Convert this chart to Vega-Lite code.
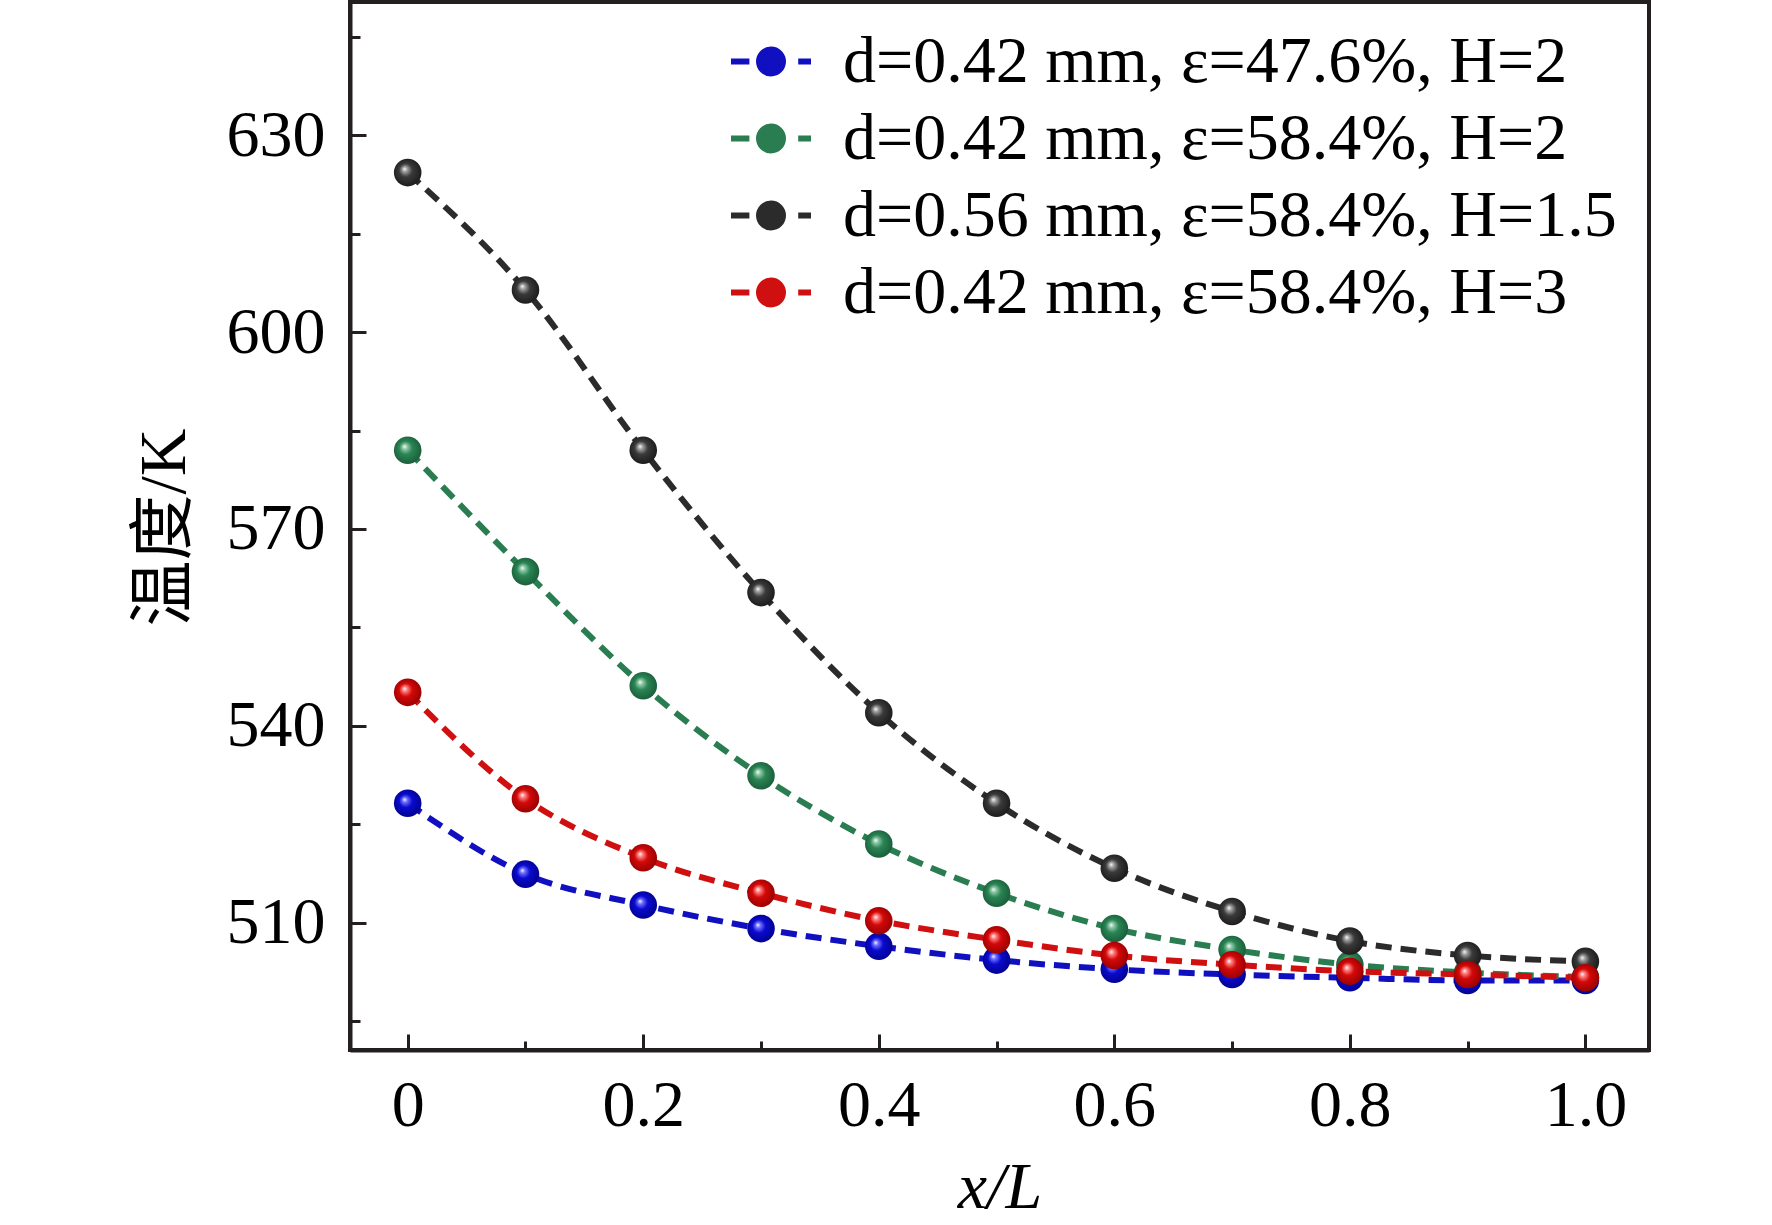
{
  "$schema": "https://vega.github.io/schema/vega-lite/v6.json",
  "width": 1299,
  "height": 1048,
  "autosize": {"type": "none"},
  "padding": {"left": 350, "top": 2, "right": 123, "bottom": 175},
  "background": "white",
  "config": {
    "view": {"stroke": "#231f20", "strokeWidth": 4},
    "font": "Liberation Serif"
  },
  "data": {
    "values": [
      {"series": "d=0.42 mm, ε=47.6%, H=2", "x": 0, "T": 528.2},
      {"series": "d=0.42 mm, ε=47.6%, H=2", "x": 0.1, "T": 517.4},
      {"series": "d=0.42 mm, ε=47.6%, H=2", "x": 0.2, "T": 512.7},
      {"series": "d=0.42 mm, ε=47.6%, H=2", "x": 0.3, "T": 509.1},
      {"series": "d=0.42 mm, ε=47.6%, H=2", "x": 0.4, "T": 506.4},
      {"series": "d=0.42 mm, ε=47.6%, H=2", "x": 0.5, "T": 504.3},
      {"series": "d=0.42 mm, ε=47.6%, H=2", "x": 0.6, "T": 502.9},
      {"series": "d=0.42 mm, ε=47.6%, H=2", "x": 0.7, "T": 502.1},
      {"series": "d=0.42 mm, ε=47.6%, H=2", "x": 0.8, "T": 501.6},
      {"series": "d=0.42 mm, ε=47.6%, H=2", "x": 0.9, "T": 501.2},
      {"series": "d=0.42 mm, ε=47.6%, H=2", "x": 1.0, "T": 501.2},
      {"series": "d=0.42 mm, ε=58.4%, H=2", "x": 0, "T": 582.0},
      {"series": "d=0.42 mm, ε=58.4%, H=2", "x": 0.1, "T": 563.5},
      {"series": "d=0.42 mm, ε=58.4%, H=2", "x": 0.2, "T": 546.1},
      {"series": "d=0.42 mm, ε=58.4%, H=2", "x": 0.3, "T": 532.4},
      {"series": "d=0.42 mm, ε=58.4%, H=2", "x": 0.4, "T": 522.0},
      {"series": "d=0.42 mm, ε=58.4%, H=2", "x": 0.5, "T": 514.5},
      {"series": "d=0.42 mm, ε=58.4%, H=2", "x": 0.6, "T": 509.1},
      {"series": "d=0.42 mm, ε=58.4%, H=2", "x": 0.7, "T": 505.9},
      {"series": "d=0.42 mm, ε=58.4%, H=2", "x": 0.8, "T": 503.6},
      {"series": "d=0.42 mm, ε=58.4%, H=2", "x": 0.9, "T": 502.4},
      {"series": "d=0.42 mm, ε=58.4%, H=2", "x": 1.0, "T": 501.7},
      {"series": "d=0.56 mm, ε=58.4%, H=1.5", "x": 0, "T": 624.3},
      {"series": "d=0.56 mm, ε=58.4%, H=1.5", "x": 0.1, "T": 606.4},
      {"series": "d=0.56 mm, ε=58.4%, H=1.5", "x": 0.2, "T": 582.0},
      {"series": "d=0.56 mm, ε=58.4%, H=1.5", "x": 0.3, "T": 560.3},
      {"series": "d=0.56 mm, ε=58.4%, H=1.5", "x": 0.4, "T": 542.0},
      {"series": "d=0.56 mm, ε=58.4%, H=1.5", "x": 0.5, "T": 528.2},
      {"series": "d=0.56 mm, ε=58.4%, H=1.5", "x": 0.6, "T": 518.3},
      {"series": "d=0.56 mm, ε=58.4%, H=1.5", "x": 0.7, "T": 511.7},
      {"series": "d=0.56 mm, ε=58.4%, H=1.5", "x": 0.8, "T": 507.2},
      {"series": "d=0.56 mm, ε=58.4%, H=1.5", "x": 0.9, "T": 505.0},
      {"series": "d=0.56 mm, ε=58.4%, H=1.5", "x": 1.0, "T": 504.1},
      {"series": "d=0.42 mm, ε=58.4%, H=3", "x": 0, "T": 545.1},
      {"series": "d=0.42 mm, ε=58.4%, H=3", "x": 0.1, "T": 528.9},
      {"series": "d=0.42 mm, ε=58.4%, H=3", "x": 0.2, "T": 519.9},
      {"series": "d=0.42 mm, ε=58.4%, H=3", "x": 0.3, "T": 514.5},
      {"series": "d=0.42 mm, ε=58.4%, H=3", "x": 0.4, "T": 510.3},
      {"series": "d=0.42 mm, ε=58.4%, H=3", "x": 0.5, "T": 507.4},
      {"series": "d=0.42 mm, ε=58.4%, H=3", "x": 0.6, "T": 505.0},
      {"series": "d=0.42 mm, ε=58.4%, H=3", "x": 0.7, "T": 503.6},
      {"series": "d=0.42 mm, ε=58.4%, H=3", "x": 0.8, "T": 502.6},
      {"series": "d=0.42 mm, ε=58.4%, H=3", "x": 0.9, "T": 502.1},
      {"series": "d=0.42 mm, ε=58.4%, H=3", "x": 1.0, "T": 501.6}
    ]
  },
  "resolve": {"axis": {"x": "independent", "y": "independent"}},
  "layer": [
    {
      "mark": {"type": "line", "interpolate": "monotone", "strokeWidth": 6, "strokeDash": [16, 9]},
      "encoding": {
        "x": {
          "field": "x", "type": "quantitative",
          "scale": {"domain": [-0.049, 1.054], "nice": false, "zero": false},
          "axis": {
            "orient": "bottom",
            "values": [0, 0.2, 0.4, 0.6, 0.8, 1.0],
            "labelExpr": "datum.value == 0 ? '0' : format(datum.value, '.1f')",
            "tickSize": -16, "tickWidth": 3, "tickColor": "#231f20",
            "domainColor": "#231f20", "domainWidth": 4,
            "labelFont": "Liberation Serif", "labelFontSize": 66, "labelColor": "#000000",
            "labelPadding": 39, "labelBaseline": "top",
            "grid": false,
            "title": "x/L", "titleFont": "Liberation Serif", "titleFontStyle": "italic",
            "titleFontWeight": "normal", "titleFontSize": 66, "titleColor": "#000000",
            "titleBaseline": "alphabetic", "titleY": 157
          }
        },
        "y": {
          "field": "T", "type": "quantitative",
          "scale": {"domain": [490.6, 650.3], "nice": false, "zero": false},
          "axis": {
            "orient": "left",
            "values": [510, 540, 570, 600, 630],
            "tickSize": -16, "tickWidth": 3, "tickColor": "#231f20",
            "domainColor": "#231f20", "domainWidth": 4,
            "labelFont": "Liberation Serif", "labelFontSize": 66, "labelColor": "#000000",
            "labelPadding": 41,
            "grid": false,
            "title": "温度/K", "titleFont": "Liberation Serif, Noto Sans CJK SC",
            "titleFontWeight": "normal", "titleFontSize": 66, "titleColor": "#000000",
            "titleAngle": -90, "titleBaseline": "middle", "titleAlign": "center",
            "titleX": -186, "titleY": 525
          }
        },
        "color": {
          "field": "series", "type": "nominal",
          "scale": {
            "domain": ["d=0.42 mm, ε=47.6%, H=2", "d=0.42 mm, ε=58.4%, H=2", "d=0.56 mm, ε=58.4%, H=1.5", "d=0.42 mm, ε=58.4%, H=3"],
            "range": ["#1010c0", "#2a7d50", "#2b2b2b", "#d01010"]
          },
          "legend": {
            "orient": "none", "legendX": 378, "legendY": 21,
            "title": null, "padding": 0,
            "clipHeight": 77, "rowPadding": 0,
            "symbolType": "M-1,0L-0.54,0M0.68,0L1,0M-0.3,0A0.3,0.3,0,1,1,0.3,0A0.3,0.3,0,1,1,-0.3,0Z",
            "symbolSize": 6400, "symbolStrokeWidth": 6, "symbolDash": [100, 0],
            "labelFont": "Liberation Serif", "labelFontSize": 66, "labelColor": "#000000",
            "labelOffset": 29, "labelLimit": 1200,
            "encode": {"symbols": {"update": {"fill": {"scale": "color", "field": "value"}, "strokeDash": {"value": [100, 0]}, "opacity": {"value": 1}}}}
          }
        },
        "detail": {"field": "series"}
      }
    },
    {
      "transform": [{"filter": {"field": "series", "equal": "d=0.42 mm, ε=47.6%, H=2"}}],
      "mark": {"type": "circle", "size": 760, "opacity": 1,
        "fill": {"gradient": "radial", "x1": 0.38, "y1": 0.36, "r1": 0, "x2": 0.5, "y2": 0.5, "r2": 0.6,
          "stops": [{"offset": 0, "color": "#ffffff"}, {"offset": 0.15, "color": "#6f6fff"}, {"offset": 0.4, "color": "#0a0ad0"}, {"offset": 1, "color": "#000080"}]}},
      "encoding": {
        "x": {"field": "x", "type": "quantitative",
          "axis": {"orient": "bottom", "values": [0.1, 0.3, 0.5, 0.7, 0.9], "labels": false, "domain": false, "grid": false, "title": null, "tickSize": -9, "tickWidth": 3, "tickColor": "#231f20"}},
        "y": {"field": "T", "type": "quantitative",
          "axis": {"orient": "left", "values": [495, 525, 555, 585, 615, 645], "labels": false, "domain": false, "grid": false, "title": null, "tickSize": -10, "tickWidth": 3, "tickColor": "#231f20"}}
      }
    },
    {
      "transform": [{"filter": {"field": "series", "equal": "d=0.42 mm, ε=58.4%, H=2"}}],
      "mark": {"type": "circle", "size": 760, "opacity": 1,
        "fill": {"gradient": "radial", "x1": 0.38, "y1": 0.36, "r1": 0, "x2": 0.5, "y2": 0.5, "r2": 0.6,
          "stops": [{"offset": 0, "color": "#ffffff"}, {"offset": 0.15, "color": "#8fc8a8"}, {"offset": 0.4, "color": "#2a8554"}, {"offset": 1, "color": "#175434"}]}},
      "encoding": {
        "x": {"field": "x", "type": "quantitative", "axis": null},
        "y": {"field": "T", "type": "quantitative", "axis": null}
      }
    },
    {
      "transform": [{"filter": {"field": "series", "equal": "d=0.56 mm, ε=58.4%, H=1.5"}}],
      "mark": {"type": "circle", "size": 760, "opacity": 1,
        "fill": {"gradient": "radial", "x1": 0.38, "y1": 0.36, "r1": 0, "x2": 0.5, "y2": 0.5, "r2": 0.6,
          "stops": [{"offset": 0, "color": "#ffffff"}, {"offset": 0.15, "color": "#a0a0a0"}, {"offset": 0.4, "color": "#3a3a3a"}, {"offset": 1, "color": "#141414"}]}},
      "encoding": {
        "x": {"field": "x", "type": "quantitative", "axis": null},
        "y": {"field": "T", "type": "quantitative", "axis": null}
      }
    },
    {
      "transform": [{"filter": {"field": "series", "equal": "d=0.42 mm, ε=58.4%, H=3"}}],
      "mark": {"type": "circle", "size": 760, "opacity": 1,
        "fill": {"gradient": "radial", "x1": 0.38, "y1": 0.36, "r1": 0, "x2": 0.5, "y2": 0.5, "r2": 0.6,
          "stops": [{"offset": 0, "color": "#ffffff"}, {"offset": 0.15, "color": "#ff8080"}, {"offset": 0.4, "color": "#d40808"}, {"offset": 1, "color": "#8a0000"}]}},
      "encoding": {
        "x": {"field": "x", "type": "quantitative", "axis": null},
        "y": {"field": "T", "type": "quantitative", "axis": null}
      }
    }
  ]
}
